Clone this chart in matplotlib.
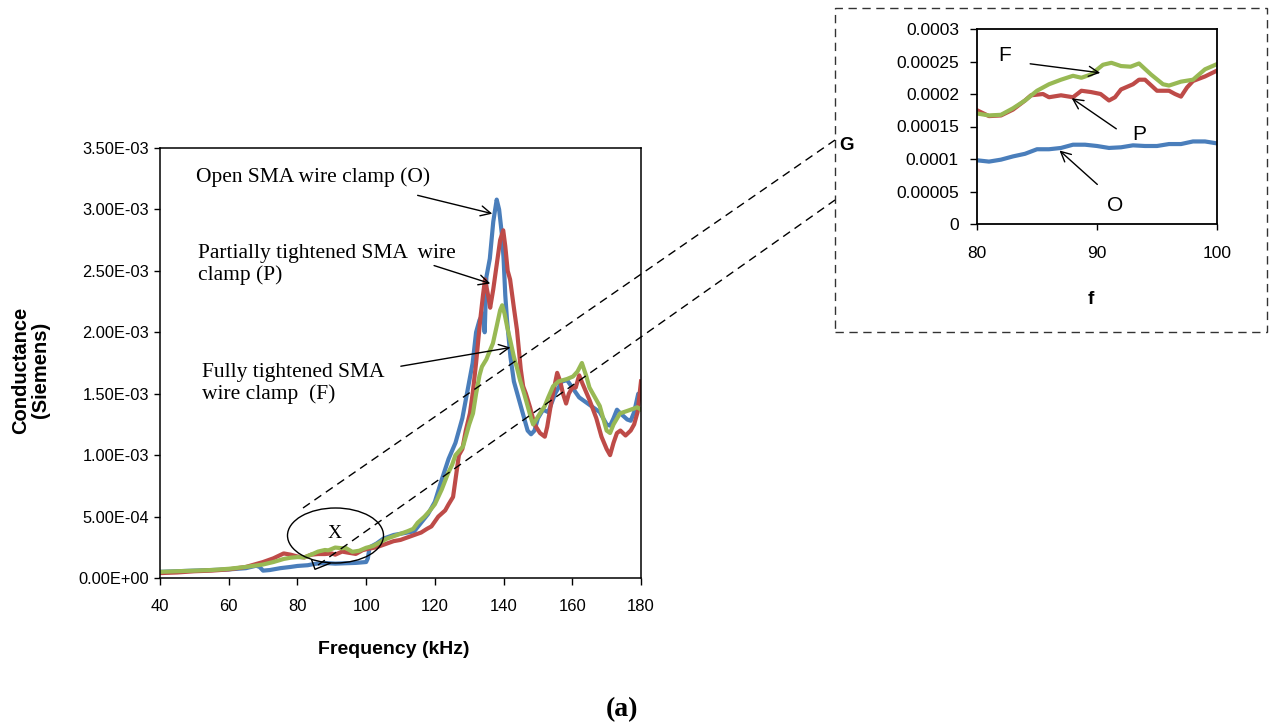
import numpy as np
import matplotlib.pyplot as plt
from matplotlib.lines import Line2D
from matplotlib.patches import Ellipse, Rectangle

W, H = 1271, 728

# main sweep, 40-180 kHz (conductance in mS, scaled below)
f_open = [40, 45, 50, 55, 60, 65, 68, 69, 70, 72, 75, 78, 80, 83, 85, 88, 91, 94, 97, 100,
          100.5, 101, 103, 105, 108, 110, 112, 114, 116, 118, 120, 122, 124, 126, 128, 129,
          130, 131, 132, 133, 134, 134.5, 135, 136, 137, 138, 138.7, 139.5, 140, 140.5, 141,
          142, 143, 144, 145, 146, 147, 148, 149, 150, 151.5, 153, 155, 157, 158.5, 160, 162,
          164, 166, 168, 170, 171, 172, 173, 174, 176, 177, 178, 179.2, 180]
g_open = [0.05, 0.055, 0.06, 0.065, 0.07, 0.08, 0.1, 0.09, 0.06, 0.065, 0.08, 0.09, 0.098,
          0.104, 0.115, 0.122, 0.117, 0.12, 0.123, 0.13, 0.16, 0.25, 0.28, 0.32, 0.35, 0.36,
          0.37, 0.38, 0.45, 0.52, 0.62, 0.8, 0.97, 1.1, 1.3, 1.45, 1.6, 1.75, 2.0, 2.1, 2.15,
          2.0, 2.45, 2.6, 2.9, 3.08, 3.0, 2.8, 2.6, 2.3, 2.1, 1.8, 1.6, 1.5, 1.4, 1.3, 1.2,
          1.17, 1.2, 1.3, 1.37, 1.35, 1.5, 1.6, 1.61, 1.55, 1.47, 1.43, 1.39, 1.35, 1.25, 1.24,
          1.3, 1.37, 1.34, 1.29, 1.28, 1.35, 1.5, 1.5]

f_part = [40, 45, 50, 55, 60, 65, 70, 73, 76, 78, 80, 82, 84, 86, 88, 90, 91, 93, 95, 97,
          99, 101, 103, 105, 108, 110, 112, 114, 116, 117.7, 119, 121, 123, 124, 125.3, 126,
          127, 128, 129, 130.2, 131, 132, 133.2, 134, 134.6, 135.5, 136.1, 137, 138, 139,
          139.9, 140.5, 141.2, 141.9, 143, 143.9, 145, 145.7, 146.5, 147.7, 149, 150.6, 152,
          152.7, 154, 155.6, 156.5, 157.3, 158.2, 159, 160, 161, 162, 163, 165, 167, 168.5,
          170, 171, 172, 173, 174, 175.5, 177, 178, 179, 180]
g_part = [0.04, 0.045, 0.055, 0.06, 0.07, 0.09, 0.13, 0.16, 0.2, 0.19, 0.175, 0.167, 0.19,
          0.195, 0.195, 0.2, 0.19, 0.215, 0.205, 0.196, 0.227, 0.24, 0.25, 0.27, 0.3, 0.31,
          0.33, 0.35, 0.37, 0.4, 0.42, 0.5, 0.55, 0.6, 0.66, 0.8, 1.0, 1.05, 1.2, 1.34, 1.5,
          1.75, 2.1, 2.3, 2.43, 2.3, 2.2, 2.35, 2.55, 2.75, 2.83, 2.7, 2.5, 2.43, 2.2, 2.02,
          1.7, 1.56, 1.5, 1.39, 1.25, 1.18, 1.15, 1.23, 1.45, 1.67, 1.6, 1.5, 1.42, 1.5, 1.55,
          1.55, 1.65, 1.58, 1.45, 1.3, 1.15, 1.05, 1.0, 1.1, 1.18, 1.2, 1.16, 1.2, 1.25, 1.35,
          1.6]

f_full = [40, 45, 50, 55, 60, 65, 70, 73, 76, 78, 80, 82, 84, 86, 88, 89, 91, 93, 94, 96,
          98, 100, 102, 104, 106, 108, 110, 112, 113.7, 115, 117, 118.6, 120, 122, 123.8,
          125, 126, 128.2, 129, 130, 131.1, 132, 133, 133.7, 135, 136, 136.9, 138, 139,
          139.6, 140.3, 141, 141.9, 143, 144, 144.8, 146, 147, 148, 148.6, 149.5, 150.6, 152,
          153, 154.4, 156, 158.5, 160.2, 161.5, 162.8, 164, 165, 166, 168, 169, 170, 171, 172,
          173.9, 176, 178, 178.9, 180]
g_full = [0.05, 0.055, 0.06, 0.065, 0.075, 0.09, 0.11, 0.13, 0.155, 0.165, 0.17, 0.168,
          0.19, 0.215, 0.228, 0.225, 0.248, 0.242, 0.245, 0.213, 0.222, 0.246, 0.26, 0.29,
          0.32, 0.34, 0.36, 0.38, 0.4, 0.45, 0.5, 0.55, 0.6, 0.72, 0.85, 0.92, 1.0, 1.07,
          1.15, 1.25, 1.34, 1.5, 1.65, 1.72, 1.78, 1.85, 1.91, 2.05, 2.18, 2.22, 2.15, 2.05,
          1.94, 1.8, 1.7, 1.61, 1.5, 1.4, 1.3, 1.25, 1.29, 1.34, 1.4, 1.47, 1.56, 1.6, 1.62,
          1.64, 1.68, 1.75, 1.65, 1.55, 1.5, 1.4, 1.3, 1.2, 1.18, 1.25, 1.34, 1.36, 1.38,
          1.39, 1.37]

# zoomed region X, 80-100 kHz (conductance in mS)
fz = [80, 81, 82, 83, 84, 85, 86, 87, 88, 88.7, 89.5, 90.5, 91.2, 92, 92.8, 93.5, 94.5,
      95.5, 96, 97, 98, 98.5, 99, 100]
gz_full = [0.17, 0.167, 0.168, 0.178, 0.19, 0.205, 0.215, 0.222, 0.228, 0.225, 0.23, 0.245,
           0.248, 0.243, 0.242, 0.247, 0.23, 0.215, 0.213, 0.219, 0.222, 0.23, 0.238, 0.246]
fz_part = [80, 81, 82, 83, 84, 84.5, 85.5, 86, 87, 88, 88.7, 89.5, 90.3, 91, 91.5, 92, 93,
           93.5, 94, 95, 96, 96.5, 97, 97.5, 98, 99, 100]
gz_part = [0.175, 0.166, 0.167, 0.176, 0.19, 0.198, 0.2, 0.195, 0.198, 0.195, 0.205, 0.203,
           0.2, 0.19, 0.195, 0.207, 0.215, 0.222, 0.222, 0.205, 0.205, 0.2, 0.196, 0.21, 0.22,
           0.227, 0.236]
fz_open = [80, 81, 82, 83, 84, 85, 86, 87, 88, 89, 90, 91, 92, 93, 94, 95, 96, 97, 98, 99, 100]
gz_open = [0.098, 0.096, 0.099, 0.104, 0.108, 0.115, 0.115, 0.117, 0.122, 0.122, 0.12,
           0.117, 0.118, 0.121, 0.12, 0.12, 0.123, 0.123, 0.127, 0.127, 0.124]

main_yticks = [0, 0.5e-3, 1.0e-3, 1.5e-3, 2.0e-3, 2.5e-3, 3.0e-3, 3.5e-3]
inset_yticks = [0, 0.00005, 0.0001, 0.00015, 0.0002, 0.00025, 0.0003]
inset_ylabels = ['0', '0.00005', '0.0001', '0.00015', '0.0002', '0.00025', '0.0003']

BLUE, RED, GREEN = '#4a7ebb', '#be4b48', '#98b954'
plt.rcParams['font.family'] = ['Liberation Sans', 'DejaVu Sans']
SERIF = 'Liberation Serif'
LW = 3.0


def fp(x, y):
    # pixel position (from top-left) -> figure fraction
    return x / W, 1 - y / H


fig = plt.figure(figsize=(W / 100, H / 100), dpi=100)

# ---- main plot ----
ax = fig.add_axes([160 / W, 1 - 578 / H, 481 / W, 430 / H])
ms = 1e-3
ax.plot(f_open, np.array(g_open) * ms, color=BLUE, lw=LW, solid_joinstyle='round')
ax.plot(f_part, np.array(g_part) * ms, color=RED, lw=LW, solid_joinstyle='round')
ax.plot(f_full, np.array(g_full) * ms, color=GREEN, lw=LW, solid_joinstyle='round')
ax.set_xlim(40, 180)
ax.set_ylim(0, 3.5e-3)
ax.set_xticks(range(40, 181, 20))
ax.set_yticks(main_yticks)
ax.set_yticklabels([f'{v:.2E}' for v in main_yticks])
ax.tick_params(axis='y', direction='out', length=4, width=1, labelsize=11.8, pad=4)
ax.tick_params(axis='x', direction='out', length=5, width=1, labelsize=12, pad=10)
for s in ax.spines.values():
    s.set_linewidth(1.1)

fig.text(*fp(394, 649), 'Frequency (kHz)', ha='center', va='center',
         fontsize=14, fontweight='bold')
fig.text(*fp(31, 370), 'Conductance\n(Siemens)', ha='center', va='center',
         rotation=90, fontsize=14.5, fontweight='bold', linespacing=1.05)

arrow = dict(arrowstyle='->', color='black', lw=1.0, mutation_scale=18)
ax.annotate('', xy=(137.5, 2.96e-3), xytext=(114.2, 3.12e-3), arrowprops=arrow)
ax.annotate('', xy=(136.9, 2.39e-3), xytext=(119.0, 2.55e-3), arrowprops=arrow)
ax.annotate('', xy=(142.8, 1.88e-3), xytext=(109.3, 1.72e-3), arrowprops=arrow)
ax.text(50.5, 3.26e-3, 'Open SMA wire clamp (O)', family=SERIF, fontsize=15.5, va='center')
ax.text(51.0, 2.55e-3, 'Partially tightened SMA  wire\nclamp (P)', family=SERIF,
        fontsize=15.5, va='center', linespacing=1.12)
ax.text(52.2, 1.585e-3, 'Fully tightened SMA\nwire clamp  (F)', family=SERIF,
        fontsize=15.5, va='center', linespacing=1.15)

# region X marker
fig.add_artist(Ellipse(fp(335.5, 535.5), 96 / W, 55 / H, fill=False, lw=1.0,
                       edgecolor='black', transform=fig.transFigure))
tail = np.array([fp(311.7, 560), fp(315, 569.3), fp(330, 563.3)])
fig.add_artist(Line2D(tail[:, 0], tail[:, 1], color='black', lw=1.0,
                      transform=fig.transFigure))
fig.text(*fp(335, 534), 'X', family=SERIF, fontsize=14, ha='center', va='center')

# dashed guides to zoomed plot
for p0, p1 in [((303, 508), (835, 140)), ((318, 565), (835, 200))]:
    a, b = fp(*p0), fp(*p1)
    fig.add_artist(Line2D([a[0], b[0]], [a[1], b[1]], color='black', lw=1.0,
                          linestyle=(0, (6, 4)), transform=fig.transFigure))
fig.add_artist(Rectangle(fp(835, 332), 432 / W, 324 / H, fill=False, lw=1.0,
                         edgecolor='#333333', linestyle=(0, (6, 4)),
                         transform=fig.transFigure))

# ---- zoomed plot ----
ax2 = fig.add_axes([977 / W, 1 - 224 / H, 240 / W, 195 / H])
ax2.plot(fz_open, np.array(gz_open) * ms, color=BLUE, lw=LW)
ax2.plot(fz_part, np.array(gz_part) * ms, color=RED, lw=LW)
ax2.plot(fz, np.array(gz_full) * ms, color=GREEN, lw=LW)
ax2.set_xlim(80, 100)
ax2.set_ylim(0, 0.0003)
ax2.set_xticks([80, 90, 100])
ax2.set_yticks(inset_yticks)
ax2.set_yticklabels(inset_ylabels)
ax2.tick_params(axis='y', direction='out', length=5, width=1, labelsize=12.5, pad=8)
ax2.tick_params(axis='x', direction='out', length=4, width=1, labelsize=12.5, pad=12)
for s in ax2.spines.values():
    s.set_linewidth(1.3)

ax2.annotate('', xy=(90.5, 0.000232), xytext=(84.2, 0.000247), arrowprops=arrow)
ax2.annotate('', xy=(87.7, 0.000196), xytext=(91.8, 0.000144), arrowprops=arrow)
ax2.annotate('', xy=(86.7, 0.000116), xytext=(90.2, 0.000058), arrowprops=arrow)
ax2.text(82.3, 0.000259, 'F', fontsize=15, ha='center', va='center')
ax2.text(93.5, 0.000137, 'P', fontsize=15, ha='center', va='center')
ax2.text(91.5, 0.000029, 'O', fontsize=15, ha='center', va='center')

fig.text(*fp(846, 145), 'G', fontsize=13.5, fontweight='bold', ha='center', va='center')
fig.text(*fp(1091, 300), 'f', fontsize=13.5, fontweight='bold', ha='center', va='center')

fig.text(*fp(622, 710), '(a)', family=SERIF, fontsize=20, fontweight='bold',
         ha='center', va='center')

fig.savefig('out.png', dpi=100)
